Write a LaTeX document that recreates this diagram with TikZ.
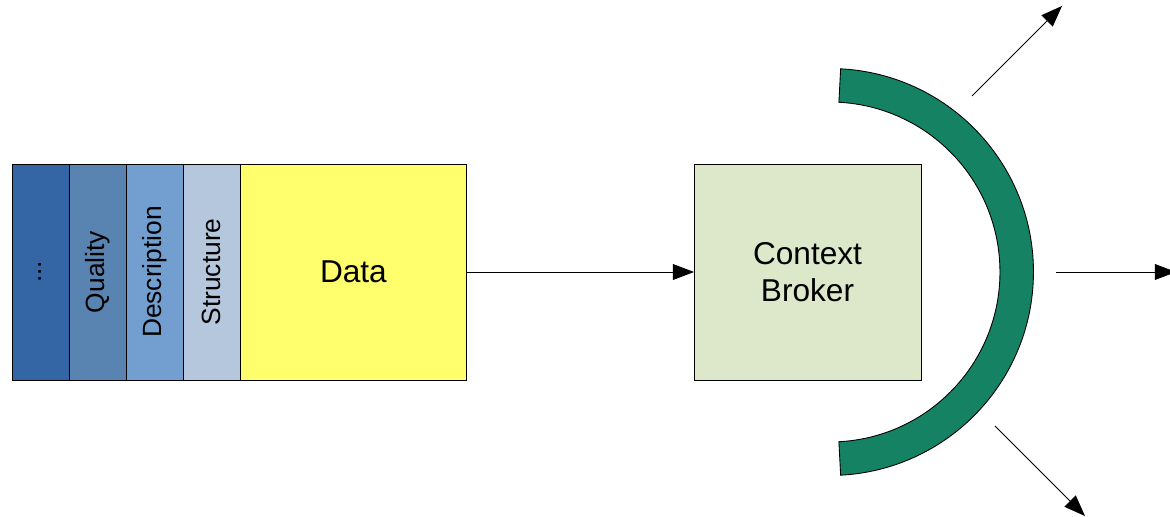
\documentclass[tikz,border=0pt]{standalone}
\usepackage{fontspec}
\setmainfont{Liberation Sans}
\usetikzlibrary{arrows.meta, positioning}

\definecolor{layerfour}{HTML}{3465A4}
\definecolor{layerthree}{HTML}{5983B0}
\definecolor{layertwo}{HTML}{729FCF}
\definecolor{layerone}{HTML}{B4C7DC}
\definecolor{datayellow}{HTML}{FFFF6D}
\definecolor{brokergreen}{HTML}{DDE8CB}
\definecolor{shieldgreen}{HTML}{168264}

\tikzset{
  layer/.style={draw, line width=0.5pt, rotate=90, minimum width=4.32cm,
    minimum height=1.14cm, inner sep=0pt, outer sep=0pt,
    font=\fontsize{15}{18}\selectfont},
  bigbox/.style={draw, line width=0.5pt, minimum width=4.54cm,
    minimum height=4.32cm, inner sep=0pt, outer sep=0pt, align=center,
    font=\fontsize{18}{21}\selectfont},
  flow/.style={line width=0.5pt, -{Triangle[length=12pt,width=9pt]}}
}

\begin{document}
\begin{tikzpicture}[x=0.02cm, y=-0.02cm]
  \useasboundingbox (0,0) rectangle (1170,517);
  % header layers
  \node [layer, fill=layerfour] (dots) at (40.5,272) {...};
  \node [layer, fill=layerthree, below=0pt of dots] (quality) {Quality};
  \node [layer, fill=layertwo, below=0pt of quality] (description) {Description};
  \node [layer, fill=layerone, below=0pt of description] (structure) {Structure};
  \node [bigbox, fill=datayellow, anchor=west] (data) at (structure.south) {Data};
  % broker
  \node [bigbox, fill=brokergreen] (broker) at (807.5,272) {Context\\Broker};
  \draw [flow] (data) -- (broker);
  % shield
  \coordinate (shieldcentre) at (830,272);
  \draw [line width=0.5pt, fill=shieldgreen]
    ([shift={(87:4.07cm)}]shieldcentre) arc [start angle=87, end angle=-87, radius=4.07cm]
    -- ([shift={(-87:3.4cm)}]shieldcentre) arc [start angle=-87, end angle=87, radius=3.4cm]
    -- cycle;
  % outgoing
  \coordinate (outtop) at (972,96);
  \coordinate (outtoptip) at (1062,6);
  \coordinate (outmid) at (1056,272);
  \coordinate (outmidtip) at (1176,272);
  \coordinate (outbot) at (995,426);
  \coordinate (outbottip) at (1085,516);
  \draw [flow] (outtop) -- (outtoptip);
  \draw [flow] (outmid) -- (outmidtip);
  \draw [flow] (outbot) -- (outbottip);
\end{tikzpicture}
\end{document}
